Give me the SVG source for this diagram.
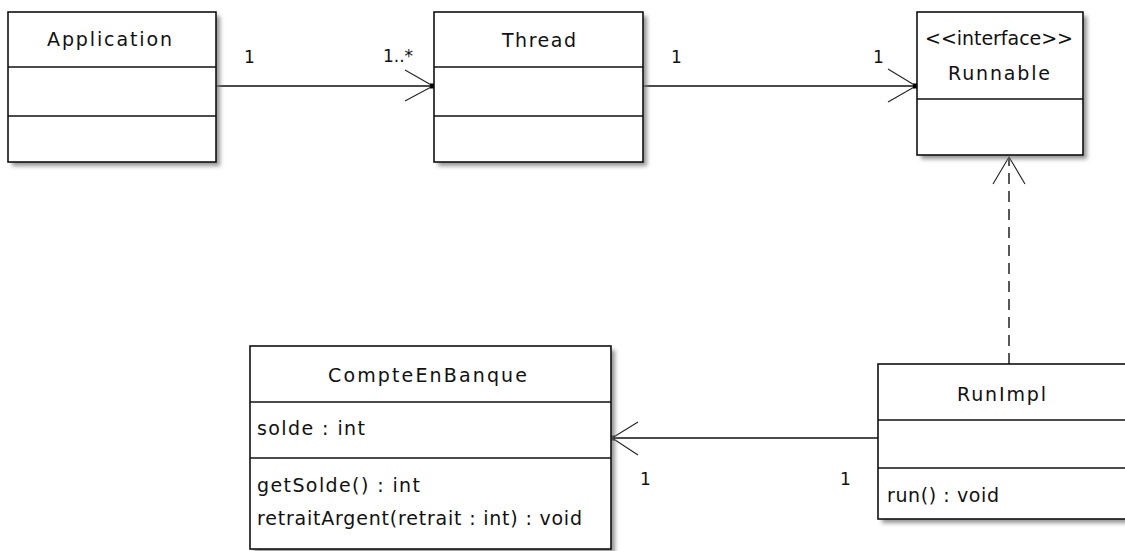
<svg xmlns="http://www.w3.org/2000/svg" width="1125" height="551" viewBox="0 0 1125 551">
  <defs>
    <filter id="sh" x="-10%" y="-10%" width="130%" height="130%">
      <feGaussianBlur stdDeviation="2"/>
    </filter>
    <style>
      .box { fill: #ffffff; stroke: #111; stroke-width: 1.6; }
      .shadow { fill: #7a7a7a; opacity: 0.8; filter: url(#sh); }
      .div { stroke: #111; stroke-width: 1.6; }
      .t { font-family: "DejaVu Sans", "Liberation Sans", sans-serif; font-size: 19px; fill: #111; }
      .m { font-family: "DejaVu Sans", "Liberation Sans", sans-serif; font-size: 17px; fill: #111; }
      .ln { stroke: #111; stroke-width: 1.4; fill: none; }
      .arm { stroke: #222; stroke-width: 1.1; fill: none; }
      .dash { stroke: #111; stroke-width: 1.4; fill: none; stroke-dasharray: 11 7; }
    </style>
  </defs>
  <rect width="1125" height="551" fill="#ffffff"/>

  <g id="connectors">
    <!-- Application -> Thread -->
    <line class="ln" x1="216" y1="86" x2="434" y2="86"/>
    <polyline class="arm" points="405,70 433,86 405,101"/>
    <rect x="430" y="83.5" width="5" height="5" fill="#000"/>
    <text class="m" x="244" y="63">1</text>
    <text class="m" x="383" y="62">1..*</text>
    <!-- Thread -> Runnable -->
    <line class="ln" x1="643" y1="86" x2="917" y2="86"/>
    <polyline class="arm" points="888,69 916,86 888,102"/>
    <rect x="913" y="83.5" width="5" height="5" fill="#000"/>
    <text class="m" x="671" y="63">1</text>
    <text class="m" x="873" y="63">1</text>
    <!-- RunImpl -> Runnable (realization) -->
    <line class="dash" x1="1009" y1="364" x2="1009" y2="157"/>
    <polyline class="arm" points="993,184 1009,157 1025,184"/>
    <!-- RunImpl -> CompteEnBanque -->
    <line class="ln" x1="878" y1="438" x2="611" y2="438"/>
    <polyline class="arm" points="638,422 612,438 638,455"/>
    <rect x="610" y="435.5" width="5" height="5" fill="#000"/>
    <text class="m" x="640" y="485">1</text>
    <text class="m" x="840" y="485">1</text>
  </g>

  <g id="Application">
    <rect class="shadow" x="12" y="16" width="208" height="150"/>
    <rect class="box" x="8" y="12" width="208" height="150"/>
    <line class="div" x1="8" y1="67" x2="216" y2="67"/>
    <line class="div" x1="8" y1="116" x2="216" y2="116"/>
    <text class="t" x="47" y="46" textLength="125" lengthAdjust="spacing">Application</text>
  </g>

  <g id="Thread">
    <rect class="shadow" x="438" y="16" width="209" height="150"/>
    <rect class="box" x="434" y="12" width="209" height="150"/>
    <line class="div" x1="434" y1="67" x2="643" y2="67"/>
    <line class="div" x1="434" y1="116" x2="643" y2="116"/>
    <text class="t" x="502" y="47" textLength="74" lengthAdjust="spacing">Thread</text>
  </g>

  <g id="Runnable">
    <rect class="shadow" x="921" y="16" width="166" height="143"/>
    <rect class="box" x="917" y="12" width="166" height="143"/>
    <line class="div" x1="917" y1="99" x2="1083" y2="99"/>
    <text class="t" x="925" y="45" textLength="148" lengthAdjust="spacing">&lt;&lt;interface&gt;&gt;</text>
    <text class="t" x="948" y="80" textLength="102" lengthAdjust="spacing">Runnable</text>
  </g>

  <g id="CompteEnBanque">
    <rect class="shadow" x="254" y="350" width="361" height="203"/>
    <rect class="box" x="250" y="346" width="361" height="203"/>
    <line class="div" x1="250" y1="402" x2="611" y2="402"/>
    <line class="div" x1="250" y1="458" x2="611" y2="458"/>
    <text class="t" x="328" y="382" textLength="199" lengthAdjust="spacing">CompteEnBanque</text>
    <text class="t" x="257" y="435" textLength="108" lengthAdjust="spacing">solde : int</text>
    <text class="t" x="257" y="492" textLength="163" lengthAdjust="spacing">getSolde() : int</text>
    <text class="t" x="257" y="525" textLength="325" lengthAdjust="spacing">retraitArgent(retrait : int) : void</text>
  </g>

  <g id="RunImpl">
    <rect class="shadow" x="882" y="368" width="260" height="155"/>
    <rect class="box" x="878" y="364" width="260" height="155"/>
    <line class="div" x1="878" y1="420" x2="1138" y2="420"/>
    <line class="div" x1="878" y1="468" x2="1138" y2="468"/>
    <text class="t" x="957" y="401" textLength="89" lengthAdjust="spacing">RunImpl</text>
    <text class="t" x="887" y="502" textLength="112" lengthAdjust="spacing">run() : void</text>
  </g>
</svg>
